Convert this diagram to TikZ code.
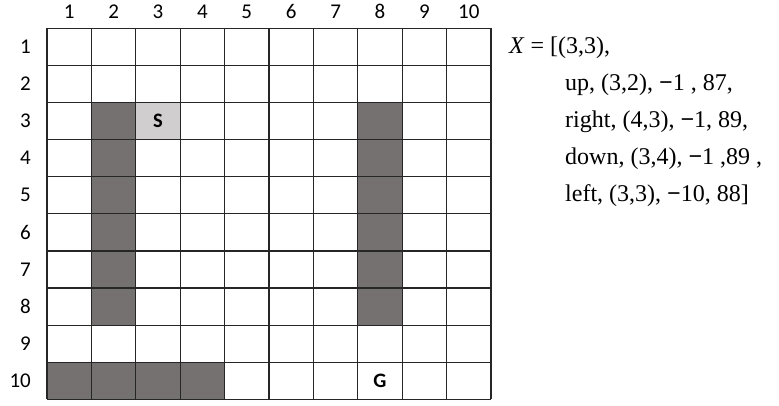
\documentclass[tikz,border=0pt]{standalone}
\usepackage{fontspec}
\setmainfont{Liberation Serif}
\newfontfamily\calib{Carlito}
\definecolor{wallc}{HTML}{767171}
\definecolor{startc}{HTML}{D0CECE}
\tikzset{
  wall/.style={fill=wallc},
  startcell/.style={fill=startc},
  gridline/.style={line width=1.2pt, draw=black!85},
  lab/.style={font=\calib\fontsize{21}{21}\selectfont, inner sep=0pt},
  celllab/.style={font=\calib\bfseries\fontsize{20.5}{21}\selectfont, inner sep=0pt},
  eqline/.style={font=\fontsize{24}{26}\selectfont, anchor=west, inner sep=0pt}
}
\begin{document}
\begin{tikzpicture}[x=1pt,y=-1pt]
\useasboundingbox (0,0) rectangle (779,405);
\begin{scope}[shift={(47,28.3)}, x=44.4pt, y=-37.1pt]
  \foreach \r in {3,...,8} {
    \fill[wall] (1,\r-1) rectangle (2,\r);
    \fill[wall] (7,\r-1) rectangle (8,\r);
  }
  \foreach \c in {1,...,4} \fill[wall] (\c-1,9) rectangle (\c,10);
  \fill[startcell] (2,2) rectangle (3,3);
  \foreach \i in {0,...,10} {
    \draw[gridline] (\i,0) -- (\i,10);
    \draw[gridline] (0,\i) -- (10,\i);
  }
  \foreach \c in {1,...,10} \node[lab] (col\c) at (\c-0.5,-0.45) {\c};
  \foreach \r in {1,...,10} \node[lab, anchor=east] (row\r) at (-0.36,\r-0.5) {\r};
  \node[celllab] (S) at (2.5,2.5) {S};
  \node[celllab] (G) at (7.5,9.5) {G};
\end{scope}
\node[eqline] (l0) at (509,48) {\textit{X} = [(3,3),};
\node[eqline] (l1) at (565,85) {up, (3,2), {\bfseries −}1 , 87,};
\node[eqline] (l2) at (565,122) {right, (4,3), {\bfseries −}1, 89,};
\node[eqline] (l3) at (565,159) {down, (3,4), {\bfseries −}1 ,89 ,};
\node[eqline] (l4) at (565,196) {left, (3,3), {\bfseries −}10, 88]};
\end{tikzpicture}
\end{document}
